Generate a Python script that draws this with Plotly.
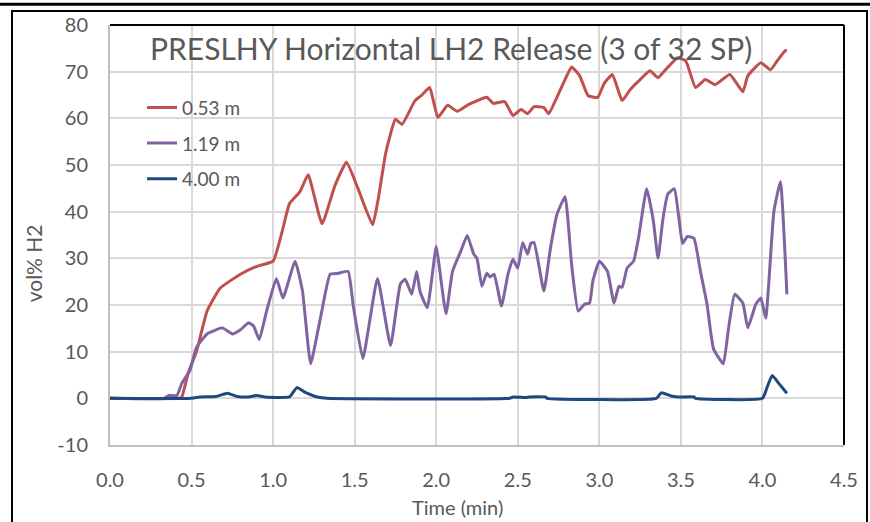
import plotly.graph_objects as go

# ---- data ----
t_053 = [0.0, 0.42, 0.44, 0.48, 0.53, 0.595, 0.675, 0.80, 0.90, 1.0, 1.055, 1.10, 1.165, 1.215,
         1.30, 1.38, 1.45, 1.52, 1.61, 1.645, 1.69, 1.75, 1.79, 1.87, 1.91, 1.96, 2.01, 2.07,
         2.13, 2.20, 2.31, 2.35, 2.42, 2.47, 2.52, 2.56, 2.60, 2.66, 2.69, 2.74, 2.79, 2.83,
         2.88, 2.93, 2.99, 3.03, 3.08, 3.14, 3.19, 3.25, 3.31, 3.36, 3.40, 3.48, 3.53, 3.59,
         3.65, 3.71, 3.80, 3.88, 3.91, 3.99, 4.05, 4.09, 4.14, 4.15]
v_053 = [0, 0, 0.3, 5.5, 10, 18.7, 23.6, 26.6, 28.3, 29.4, 35.7, 41.7, 44.3, 47.9,
         37.4, 45.7, 50.6, 45, 37.2, 42.8, 52.5, 59.8, 58.7, 63.8, 64.9, 66.6, 60.2, 62.8,
         61.5, 63, 64.5, 63.2, 63.6, 60.6, 61.9, 61, 62.5, 62.3, 61, 64.5, 68.3, 71,
         69.1, 64.9, 64.5, 67.5, 69.4, 63.8, 66.2, 68.3, 70.2, 68.7, 70.2, 73, 72.3, 66.6,
         68.3, 67.2, 69.4, 65.7, 69.1, 71.9, 70.4, 72.3, 74.5, 74.5]

t_119 = [0.0, 0.33, 0.36, 0.41, 0.44, 0.49, 0.53, 0.595, 0.69, 0.75, 0.80, 0.85, 0.88, 0.915,
         0.96, 1.02, 1.06, 1.135, 1.18, 1.23, 1.29, 1.35, 1.40, 1.46, 1.49, 1.55, 1.64, 1.72,
         1.78, 1.81, 1.85, 1.88, 1.90, 1.945, 2.0, 2.02, 2.06, 2.10, 2.15, 2.19, 2.23, 2.25,
         2.28, 2.31, 2.33, 2.355, 2.40, 2.44, 2.47, 2.50, 2.53, 2.56, 2.58, 2.60, 2.66, 2.70,
         2.74, 2.79, 2.83, 2.87, 2.91, 2.94, 2.96, 3.0, 3.05, 3.09, 3.12, 3.14, 3.17, 3.21,
         3.24, 3.29, 3.33, 3.36, 3.39, 3.42, 3.46, 3.485, 3.51, 3.54, 3.58, 3.62, 3.66, 3.70,
         3.76, 3.79, 3.83, 3.88, 3.91, 3.96, 3.99, 4.02, 4.07, 4.11, 4.15]
v_119 = [0, 0, 0.6, 0.6, 3.2, 6, 10.9, 13.8, 15.1, 13.8, 14.7, 16.2, 15.5, 12.6,
         18.7, 25.7, 21.5, 29.4, 23, 7.4, 17.2, 26.6, 26.8, 27.2, 20.2, 8.5, 25.7, 11.3,
         24.5, 25.5, 22.3, 27.2, 23, 19.4, 32.6, 27.9, 18.1, 27.2, 31.5, 34.9, 30.9, 30,
         24, 26.8, 26, 26.6, 19.8, 26.6, 29.8, 27.9, 33.4, 30.9, 33.2, 33.4, 23, 32.1,
         39.4, 43.2, 28.7, 18.7, 20.2, 20.4, 25.1, 29.4, 27.2, 20.4, 24, 23.8, 27.9, 29.4,
         34.3, 44.9, 38.3, 30, 38.5, 43.8, 44.9, 39.4, 33.2, 34.7, 34.3, 27.2, 20.2, 10.6,
         7.4, 14.5, 22.3, 20.4, 15.1, 20.2, 21.5, 17.2, 40, 46.4, 22.3]

t_400 = [0.0, 0.50, 0.55, 0.65, 0.72, 0.78, 0.85, 0.90, 0.95, 1.10, 1.145, 1.20, 1.27, 1.33,
         2.45, 2.47, 2.55, 2.57, 2.67, 2.68, 3.35, 3.38, 3.44, 3.48, 3.58, 3.59, 4.00, 4.03,
         4.06, 4.10, 4.15]
v_400 = [0, 0, 0.3, 0.4, 1.1, 0.4, 0.3, 0.6, 0.3, 0.3, 2.3, 1.2, 0.3, 0,
         0, 0.3, 0.2, 0.3, 0.3, 0, 0, 1.2, 0.5, 0.3, 0.3, 0, 0, 2.5,
         4.9, 3.2, 1.1]

series_names = ["0.53 m", "1.19 m", "4.00 m"]
title_text = "PRESLHY Horizontal LH2 Release (3 of 32 SP)"
x_ticks = [0.0, 0.5, 1.0, 1.5, 2.0, 2.5, 3.0, 3.5, 4.0, 4.5]
y_ticks = [-10, 0, 10, 20, 30, 40, 50, 60, 70, 80]

colors = ["#C0504D", "#8064A2", "#1F497D"]
FONT = "Lato"
GREY = "#595959"

fig = go.Figure()
for i, (t, v) in enumerate([(t_053, v_053), (t_119, v_119), (t_400, v_400)]):
    fig.add_trace(go.Scatter(x=t, y=v, mode="lines", name=series_names[i],
                             legendgroup=f"g{i}",
                             line=dict(color=colors[i], width=3, shape="spline",
                                       smoothing=0.4)))

# plot area in px: left 110, right 844, top 22, bottom 445
W, H = 870, 522
L, R, T, B = 110, 844, 22, 445
pw, ph = R - L, B - T
def px(x):
    return (x - L) / pw
def py(y):
    return (B - y) / ph

fig.update_layout(
    width=W, height=H,
    margin=dict(l=L, r=W - R, t=T, b=H - B, pad=0),
    paper_bgcolor="white", plot_bgcolor="white",
    font=dict(family=FONT, color=GREY, size=19),
    showlegend=True,
    legend=dict(x=px(142), y=py(86), xanchor="left", yanchor="top",
                bgcolor="rgba(0,0,0,0)", font=dict(size=19, color=GREY),
                tracegroupgap=8, itemwidth=30),
    xaxis=dict(range=[0, 4.5], tickvals=x_ticks, ticktext=[f"{v:.1f}" for v in x_ticks],
               showgrid=True, gridcolor="#D9D9D9", gridwidth=2,
               showline=True, linecolor="#BFBFBF", linewidth=2,
               ticks="", ticklabelstandoff=16, zeroline=False,
               tickfont=dict(size=20, color=GREY, family=FONT)),
    yaxis=dict(range=[-10, 80], tickvals=y_ticks, ticktext=[str(v) for v in y_ticks],
               showgrid=True, gridcolor="#D9D9D9", gridwidth=2,
               showline=True, linecolor="#BFBFBF", linewidth=2,
               ticks="", ticklabelstandoff=16, zeroline=False,
               tickfont=dict(size=20, color=GREY, family=FONT)),
    annotations=[
        dict(text=title_text, x=px(451), y=py(45), xref="paper", yref="paper",
             showarrow=False, font=dict(size=30, color=GREY, family=FONT),
             xanchor="center", yanchor="middle"),
        dict(text="Time (min)", x=px(457), y=py(507), xref="paper", yref="paper",
             showarrow=False, font=dict(size=20, color=GREY, family=FONT),
             xanchor="center", yanchor="middle"),
        dict(text="vol% H2", x=px(33), y=py(262), xref="paper", yref="paper",
             showarrow=False, textangle=-90, font=dict(size=21, color=GREY, family=FONT),
             xanchor="center", yanchor="middle"),
    ],
    shapes=[
        # plot-area black top and right edges
        dict(type="line", xref="paper", yref="paper", x0=0, x1=1, y0=1, y1=1,
             line=dict(color="black", width=2)),
        dict(type="line", xref="paper", yref="paper", x0=1, x1=1, y0=0, y1=1,
             line=dict(color="black", width=2)),
        # outer frame
        dict(type="rect", xref="paper", yref="paper", x0=px(12), x1=px(867),
             y0=py(530), y1=py(8), line=dict(color="black", width=2),
             fillcolor="rgba(0,0,0,0)", layer="above"),
        dict(type="line", xref="paper", yref="paper", x0=px(0), x1=px(870),
             y0=py(1), y1=py(1), line=dict(color="black", width=3)),
    ],
)

fig.write_html("out.html", post_script="document.body.style.margin='0';",
               config={"displayModeBar": False})
